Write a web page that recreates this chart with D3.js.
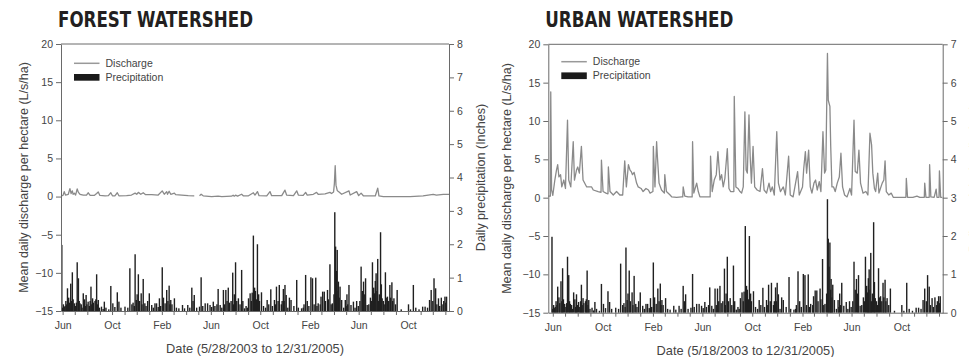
<!DOCTYPE html>
<html>
<head>
<meta charset="utf-8">
<script src="https://cdn.jsdelivr.net/npm/d3@7"></script>
<style>
  body { margin: 0; background: #fff; }
  svg { display: block; }
  .axis text { font-family: "Liberation Sans", Arial, sans-serif; font-size: 10.5px; fill: #444; }
  .axis path, .axis line { stroke: #6a6a6a; }
  .lbl { font-family: "Liberation Sans", Arial, sans-serif; fill: #444; }
  .title { font-family: "Liberation Sans Narrow", "DejaVu Sans Condensed", "Liberation Sans", sans-serif; font-weight: bold; fill: #231f20; }
</style>
</head>
<body>
<div id="chart"></div>
<script>
// daily precipitation (inches), [days since 2003-05-28, value] - same gauge for both watersheds
const precipStart = new Date(2003, 4, 28);
const precip = [
  [2,1.98],[4,0.1],[6,0.2],[8,0.12],[10,0.15],[12,0.3],[14,0.2],[16,0.68],[19,0.4],[21,0.25],[24,0.82],[26,0.3],[28,1.16],
  [30,0.35],[33,0.23],[36,0.15],[38,0.25],[40,1.46],[43,0.98],[45,0.3],[47,0.23],[50,0.2],[52,0.1],[55,0.53],[58,0.35],
  [60,0.15],[62,0.48],[64,0.2],[67,0.28],[70,0.15],[72,0.3],[74,0.73],[76,0.2],[78,0.38],[80,0.25],[84,0.3],[86,0.35],[88,1.1],
  [90,0.2],[92,0.33],[95,0.1],[100,0.13],[104,0.06],[107,0.28],[111,0.1],[118,0.05],[123,0.75],[128,0.23],[133,0.12],[139,0.56],
  [143,0.28],[148,0.1],[158,0.13],[165,0.1],[170,1.28],[175,0.2],[178,0.25],[181,0.15],[183,1.7],[186,0.33],[188,0.5],
  [191,1.1],[194,0.3],[198,0.53],[200,0.2],[203,0.96],[207,0.23],[210,0.15],[214,0.3],[218,0.53],[224,0.18],
  [228,0.1],[232,0.23],[236,0.23],[240,0.12],[243,0.38],[246,0.15],[250,1.31],[253,0.4],[257,0.23],[261,0.63],[264,0.3],
  [267,0.76],[269,0.2],[271,0.33],[274,0.2],[280,0.38],[285,0.1],[291,0.08],[300,0.18],[305,0.08],[313,0.18],[318,0.1],
  [323,0.7],[326,0.3],[329,0.48],[335,0.1],[342,0.13],[346,1.01],[350,0.15],[356,0.23],[362,0.23],[368,0.18],
  [372,0.12],[376,0.28],[380,0.15],[385,0.2],[388,0.66],[393,0.18],[397,0.1],[401,0.63],[404,0.2],[407,0.63],
  [410,0.3],[413,0.7],[416,0.25],[420,0.3],[424,1.15],[426,0.2],[428,0.5],[431,1.46],[434,0.3],[438,0.38],[442,0.2],
  [446,1.23],[449,0.3],[453,0.08],[457,0.15],[460,0.1],[463,0.38],[467,0.53],[470,0.3],[472,0.55],[475,2.26],[478,0.7],
  [480,0.6],[483,0.35],[485,2.0],[488,0.5],[490,0.3],[495,0.56],[500,0.15],[505,0.1],[509,0.33],[513,0.2],[518,0.65],
  [522,0.15],[527,0.33],[530,0.2],[532,0.73],[536,0.3],[539,0.78],[544,0.2],[546,0.3],[549,0.66],[551,0.3],[553,0.78],[556,0.48],
  [560,0.1],[564,0.4],[568,0.33],[575,0.15],[582,0.93],[586,0.1],[594,0.08],[598,0.1],[600,0.2],[604,1.08],
  [608,0.3],[612,0.15],[617,1.01],[621,0.98],[625,0.2],[629,1.0],[632,0.15],[635,0.23],[640,0.2],[642,0.43],
  [646,0.58],[650,0.58],[653,0.3],[658,0.63],[660,0.35],[664,1.4],[667,0.2],[670,0.23],[674,0.5],[676,2.96],
  [678,1.93],[680,1.2],[682,1.83],[684,0.6],[685,0.88],[687,0.4],[689,0.73],[693,0.33],[698,0.1],[702,0.33],[704,0.15],[706,0.5],
  [708,0.2],[711,0.78],[716,0.18],[722,0.28],[726,0.1],[730,0.3],[734,0.15],[738,0.3],[741,1.33],[744,0.6],[747,0.88],[750,0.5],[752,0.98],
  [756,0.18],[760,0.2],[764,0.4],[767,0.3],[769,1.46],[772,0.7],[774,0.53],[776,0.9],[778,1.13],[780,0.6],[782,1.56],
  [784,0.3],[786,0.5],[789,2.36],[791,0.8],[793,0.38],[796,0.3],[798,0.2],[801,1.16],[803,0.4],[806,0.43],[809,0.3],[812,0.78],
  [814,0.4],[817,0.86],[819,0.3],[822,0.38],[826,0.2],[830,0.63],[840,0.05],[858,0.2],[863,0.05],[870,0.78],
  [876,0.1],[884,0.05],[893,0.13],[899,0.13],[905,0.1],[910,0.33],[914,0.63],[918,0.3],[921,0.98],[925,0.68],
  [928,0.2],[932,0.38],[935,0.15],[939,0.4],[943,0.2],[945,0.3],[948,0.43],[950,0.25],[952,0.43]
];

// forest mean daily discharge (L/s/ha), [days since 2003-05-28, value], null = gap in record
const forestStart = new Date(2003, 4, 28);
const forestQ = [
  [0,0.1],[5,0.15],[8,0.65],[11,0.2],[18,0.3],[22,1.05],[25,0.4],[28,0.75],[30,0.3],[33,0.45],
  [36,0.2],[40,1.0],[43,0.55],[47,0.3],[55,0.2],[63,0.2],[67,0.5],[72,0.15],[82,0.15],[88,0.4],
  [92,0.6],[96,0.15],[109,0.1],[117,0.12],[123,0.5],[127,0.1],[133,0.1],[139,0.5],[143,0.1],[162,0.12],
  [174,0.2],[183,0.45],[187,0.3],[191,0.55],[197,0.3],[203,0.5],[209,0.25],[224,0.25],[240,0.2],[250,0.75],
  [255,0.3],[261,0.65],[263,0.3],[267,0.7],[271,0.3],[280,0.45],[283,0.25],[298,0.2],[314,0.12],[329,0.1],
  [335,null],[342,0.12],[346,0.3],[351,0.1],[372,0.0],[388,0.05],[397,0.0],[421,0.05],[425,0.18],[428,0.05],
  [431,0.18],[436,0.05],[446,0.3],[450,0.1],[463,0.1],[475,0.5],[479,0.2],[485,0.65],[489,0.12],[508,0.08],
  [516,0.65],[520,0.12],[545,0.12],[553,0.85],[557,0.2],[574,0.12],[582,0.75],[586,0.2],[598,0.15],[604,0.55],
  [608,0.2],[623,0.3],[631,0.55],[635,0.3],[652,0.35],[664,0.55],[668,0.4],[673,0.6],[675,1.7],[677,4.05],
  [679,1.5],[682,0.8],[685,0.65],[693,0.3],[711,0.75],[714,0.2],[730,0.65],[735,0.12],[741,0.45],[747,0.08],
  [776,0.08],[782,1.1],[785,0.08],[796,0.0],[820,0.0],[862,0.0],[894,0.08],[919,0.3],[927,0.2],[944,0.3],
  [958,0.3]
];

// urban mean daily discharge (L/s/ha), [days since 2003-05-21, value]
const urbanStart = new Date(2003, 4, 21);
const urbanQ = [
  [0,0.2],[5,0.2],[6,13.8],[8,1.0],[11,0.3],[16,2.3],[20,3.6],[23,4.3],[26,2.7],[30,3.0],
  [33,1.4],[38,2.3],[42,1.2],[47,10.1],[50,2.3],[55,1.4],[61,7.3],[64,2.3],[69,3.6],[72,4.0],
  [76,3.2],[81,6.7],[85,2.3],[94,1.4],[106,1.4],[110,1.0],[122,0.8],[129,0.7],[130,4.9],[134,0.8],
  [141,0.6],[146,0.5],[147,4.0],[151,0.8],[159,0.35],[167,0.8],[175,0.35],[182,0.35],[187,4.8],[191,1.4],
  [196,4.3],[200,3.6],[203,3.4],[206,3.0],[210,3.3],[216,1.9],[220,1.4],[227,1.2],[232,0.8],[239,1.2],
  [245,1.0],[249,0.6],[256,0.8],[257,6.7],[261,1.4],[265,7.3],[267,5.3],[271,1.9],[277,1.0],[284,0.6],
  [285,3.0],[289,0.8],[298,0.35],[302,0.1],[314,0.05],[326,0.1],[329,0.1],[330,1.4],[334,0.2],[342,0.1],
  [352,0.1],[353,7.3],[356,0.6],[363,1.9],[367,0.8],[371,0.1],[387,0.1],[396,0.1],[397,5.4],[401,0.8],
  [406,2.3],[411,3.0],[415,6.0],[420,2.3],[424,3.0],[428,1.4],[432,2.5],[438,6.4],[442,1.2],[446,0.8],
  [454,0.8],[455,13.2],[459,1.4],[464,1.2],[469,0.8],[473,0.6],[477,1.4],[481,11.2],[484,3.6],[487,3.2],
  [491,10.8],[494,5.3],[497,1.9],[501,6.7],[505,1.4],[511,1.0],[518,0.8],[524,3.8],[528,1.0],[534,0.6],
  [540,1.9],[544,0.8],[548,1.4],[553,0.35],[559,8.6],[563,1.9],[568,0.8],[575,1.4],[580,0.35],[588,5.4],
  [592,0.35],[599,0.1],[610,3.4],[614,0.35],[622,1.4],[625,3.8],[629,6.0],[632,3.2],[637,6.2],[641,1.4],
  [645,0.6],[650,1.9],[654,2.3],[658,1.0],[663,2.1],[667,0.8],[672,8.6],[676,3.2],[679,3.6],[683,18.8],
  [685,12.7],[689,11.9],[691,6.7],[694,1.4],[698,1.4],[702,0.8],[707,1.9],[712,2.7],[716,5.8],[720,1.4],
  [725,0.35],[731,0.1],[738,1.2],[742,0.35],[748,10.1],[751,3.4],[756,3.2],[760,6.2],[764,1.9],[770,0.6],
  [777,0.8],[782,0.35],[787,8.4],[791,6.9],[794,3.2],[798,1.2],[801,0.8],[806,3.2],[809,0.6],[817,1.9],
  [821,2.3],[824,4.8],[827,0.8],[833,0.35],[839,0.6],[844,0.05],[860,0.05],[875,0.05],[876,2.5],[879,0.05],
  [892,0.05],[902,0.2],[909,0.05],[920,0.05],[921,1.9],[924,0.05],[932,0.05],[933,4.3],[936,0.1],[944,0.05],
  [949,1.1],[951,0.05],[956,0.05],[957,3.5],[960,0.05],[964,0.05]
];

const dischargeTicks = [-15, -10, -5, 0, 5, 10, 15, 20];
const labelMonths = [5, 9, 1]; // Jun, Oct, Feb

const svg = d3.select("#chart").append("svg").attr("width", 969).attr("height", 357);

function drawPanel(p) {
  const g = svg.append("g");
  const x = d3.scaleTime().domain(p.xDomain).range([p.left, p.right]);
  const y = d3.scaleLinear().domain([-15, 20]).range([p.bottom, p.top]);
  const yP = d3.scaleLinear().domain([0, p.precipMax]).range([p.bottom, p.top]);

  // precipitation bars
  g.append("g").selectAll("rect")
    .data(precip)
    .enter().append("rect")
    .attr("x", d => x(d3.timeDay.offset(precipStart, d[0])) - 0.7)
    .attr("y", d => yP(d[1]))
    .attr("width", 1.4)
    .attr("height", d => yP(0) - yP(d[1]))
    .attr("fill", "#202020");

  // discharge line
  const line = d3.line()
    .defined(d => d[1] != null)
    .x(d => x(d3.timeDay.offset(p.qStart, d[0])))
    .y(d => y(d[1]));
  g.append("path").datum(p.q)
    .attr("d", line)
    .attr("fill", "none")
    .attr("stroke", "#8a8a8a")
    .attr("stroke-width", 1.3)
    .attr("stroke-linejoin", "round");

  // axes
  g.append("g").attr("class", "axis")
    .attr("transform", `translate(${p.left},0)`)
    .call(d3.axisLeft(y).tickValues(dischargeTicks).tickSize(5).tickSizeOuter(0).tickPadding(3));

  g.append("g").attr("class", "axis")
    .attr("transform", `translate(${p.right},0)`)
    .call(d3.axisRight(yP).ticks(p.precipMax).tickSize(5).tickSizeOuter(0).tickPadding(3));

  g.append("g").attr("class", "axis")
    .attr("transform", `translate(0,${p.bottom})`)
    .call(d3.axisBottom(x)
      .ticks(d3.timeMonth.every(1))
      .tickSize(4).tickSizeOuter(0).tickPadding(7)
      .tickFormat(d => labelMonths.includes(d.getMonth()) ? d3.timeFormat("%b")(d) : ""));

  // top of the frame
  g.append("line")
    .attr("x1", p.left).attr("x2", p.right)
    .attr("y1", p.top).attr("y2", p.top)
    .attr("stroke", "#6a6a6a");

  // title
  g.append("text").attr("class", "title")
    .attr("x", p.left - 3).attr("y", 26.7)
    .attr("font-size", "21px")
    .attr("textLength", p.titleWidth)
    .attr("lengthAdjust", "spacingAndGlyphs")
    .text(p.title);

  // legend
  g.append("line")
    .attr("x1", p.left + 13).attr("x2", p.left + 38.5)
    .attr("y1", p.legendY).attr("y2", p.legendY)
    .attr("stroke", "#999").attr("stroke-width", 1.5);
  g.append("rect")
    .attr("x", p.left + 13).attr("y", p.legendY + 10.7)
    .attr("width", 25.5).attr("height", 6.7)
    .attr("fill", "#1a1a1a");
  g.append("text").attr("class", "lbl")
    .attr("x", p.left + 44.5).attr("y", p.legendY + 3.6)
    .attr("font-size", "10.5px").text("Discharge");
  g.append("text").attr("class", "lbl")
    .attr("x", p.left + 44.5).attr("y", p.legendY + 17.2)
    .attr("font-size", "10.5px").text("Precipitation");

  // axis titles
  const midY = (p.top + p.bottom) / 2;
  g.append("text").attr("class", "lbl")
    .attr("transform", `translate(${p.yLabelX},${midY}) rotate(-90)`)
    .attr("text-anchor", "middle").attr("dy", "0.35em")
    .attr("font-size", "12.5px")
    .text("Mean daily discharge per hectare (L/s/ha)");
  g.append("text").attr("class", "lbl")
    .attr("transform", `translate(${p.y2LabelX},${midY}) rotate(-90)`)
    .attr("text-anchor", "middle").attr("dy", "0.35em")
    .attr("font-size", "12.5px")
    .attr("fill-opacity", p.y2Opacity)
    .text("Daily precipitation (Inches)");
  g.append("text").attr("class", "lbl")
    .attr("x", (p.left + p.right) / 2).attr("y", p.xLabelY)
    .attr("text-anchor", "middle")
    .attr("font-size", "12.8px")
    .text(p.xLabel);
}

drawPanel({
  title: "FOREST WATERSHED", titleWidth: 195,
  left: 61, right: 449, top: 44, bottom: 311,
  xDomain: [new Date(2003, 4, 28), new Date(2006, 0, 10)],
  precipMax: 8, q: forestQ, qStart: forestStart,
  legendY: 63.3, yLabelX: 24, y2LabelX: 481, y2Opacity: 1,
  xLabel: "Date (5/28/2003 to 12/31/2005)", xLabelY: 353
});

// the reference crops this panel's right-hand axis title at the page edge
drawPanel({
  title: "URBAN WATERSHED", titleWidth: 188,
  left: 548.3, right: 942.7, top: 44.3, bottom: 312.7,
  xDomain: [new Date(2003, 4, 21), new Date(2006, 0, 10)],
  precipMax: 7, q: urbanQ, qStart: urbanStart,
  legendY: 61.7, yLabelX: 507, y2LabelX: 974, y2Opacity: 0.35,
  xLabel: "Date (5/18/2003 to 12/31/2005)", xLabelY: 355
});
</script>
</body>
</html>
